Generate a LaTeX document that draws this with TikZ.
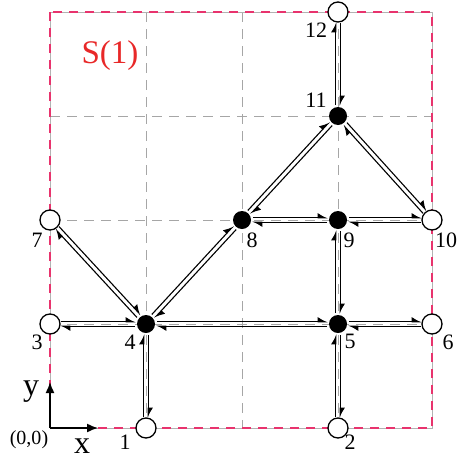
\documentclass[tikz,border=0pt]{standalone}
\usepackage{fontspec}
\setmainfont{Liberation Serif}
\usetikzlibrary{calc,arrows.meta}
\definecolor{bpink}{HTML}{E8336D}
\definecolor{sred}{HTML}{E82828}
\tikzset{
  open/.style={circle,draw,line width=1.3pt,fill=white,minimum size=20pt,inner sep=0pt},
  full/.style={circle,fill=black,minimum size=18pt,inner sep=0pt},
  lab/.style={font=\fontsize{22}{22}\selectfont,inner sep=0pt},
  arr/.style={line width=1.1pt,-{Latex[length=9pt,width=10pt,harpoon]},shorten <=11pt,shorten >=10pt},
  grid/.style={gray!70,line width=0.8pt,dash pattern=on 10pt off 7pt},
}
\newcommand{\biedge}[2]{%
  \draw[arr] ($(#1)!2.2pt!90:(#2)$) -- ($(#2)!2.2pt!-90:(#1)$);
  \draw[arr] ($(#2)!2.2pt!90:(#1)$) -- ($(#1)!2.2pt!-90:(#2)$);}
\begin{document}
\begin{tikzpicture}[x=1pt,y=-1pt]
\useasboundingbox (0,0) rectangle (465,463);
% grid
\foreach \v in {146,242,338} {\draw[grid] (\v,12) -- (\v,428);}
\foreach \v in {116,220,324} {\draw[grid] (50,\v) -- (432,\v);}
\draw[gray!60,line width=0.7pt] (50,12) rectangle (432,428);
\draw[bpink,line width=1.4pt,dash pattern=on 9pt off 7pt] (50,12) rectangle (432,428);
% coordinates for node positions
\coordinate (p1) at (146,428);
\coordinate (p2) at (338,428);
\coordinate (p3) at (50,324);
\coordinate (p4) at (146,324);
\coordinate (p5) at (338,324);
\coordinate (p6) at (432,324);
\coordinate (p7) at (50,220);
\coordinate (p8) at (242,220);
\coordinate (p9) at (338,220);
\coordinate (p10) at (432,220);
\coordinate (p11) at (338,116);
\coordinate (p12) at (338,12);
% edges
\biedge{p1}{p4}
\biedge{p4}{p3}
\biedge{p4}{p7}
\biedge{p4}{p8}
\biedge{p4}{p5}
\biedge{p5}{p6}
\biedge{p5}{p2}
\biedge{p5}{p9}
\biedge{p9}{p8}
\biedge{p9}{p10}
\biedge{p8}{p11}
\biedge{p11}{p10}
\biedge{p11}{p12}
% nodes
\node[open] (n1) at (p1) {};
\node[open] (n2) at (p2) {};
\node[open] (n3) at (p3) {};
\node[full] (n4) at (p4) {};
\node[full] (n5) at (p5) {};
\node[open] (n6) at (p6) {};
\node[open] (n7) at (p7) {};
\node[full] (n8) at (p8) {};
\node[full] (n9) at (p9) {};
\node[open] (n10) at (p10) {};
\node[full] (n11) at (p11) {};
\node[open] (n12) at (p12) {};
% labels
\node[lab] (l1) at (125,442) {1};
\node[lab] (l2) at (350,442) {2};
\node[lab] (l3) at (37,342) {3};
\node[lab] (l4) at (130,342) {4};
\node[lab] (l5) at (350,341) {5};
\node[lab] (l6) at (448,342) {6};
\node[lab] (l7) at (37,240) {7};
\node[lab] (l8) at (252,240) {8};
\node[lab] (l9) at (349,240) {9};
\node[lab] (l10) at (446,240) {10};
\node[lab] (l11) at (316,100) {11};
\node[lab] (l12) at (316,30) {12};
\node[sred,font=\fontsize{33}{33}\selectfont,inner sep=0pt] (s1) at (110,56) {S(1)};
% axes
\coordinate (o) at (50,428);
\coordinate (ya) at (50,382);
\coordinate (xa) at (98,428);
\draw[line width=1.4pt,-{Latex[length=11pt,width=9pt]}] (o) -- (ya);
\draw[line width=1.4pt,-{Latex[length=11pt,width=9pt]}] (o) -- (xa);
\node[font=\fontsize{32}{32}\selectfont,inner sep=0pt] (ly) at (31,392) {y};
\node[font=\fontsize{32}{32}\selectfont,inner sep=0pt] (lx) at (82,446) {x};
\node[font=\fontsize{20}{20}\selectfont,inner sep=0pt] (lo) at (29,440) {(0,0)};
\end{tikzpicture}
\end{document}
